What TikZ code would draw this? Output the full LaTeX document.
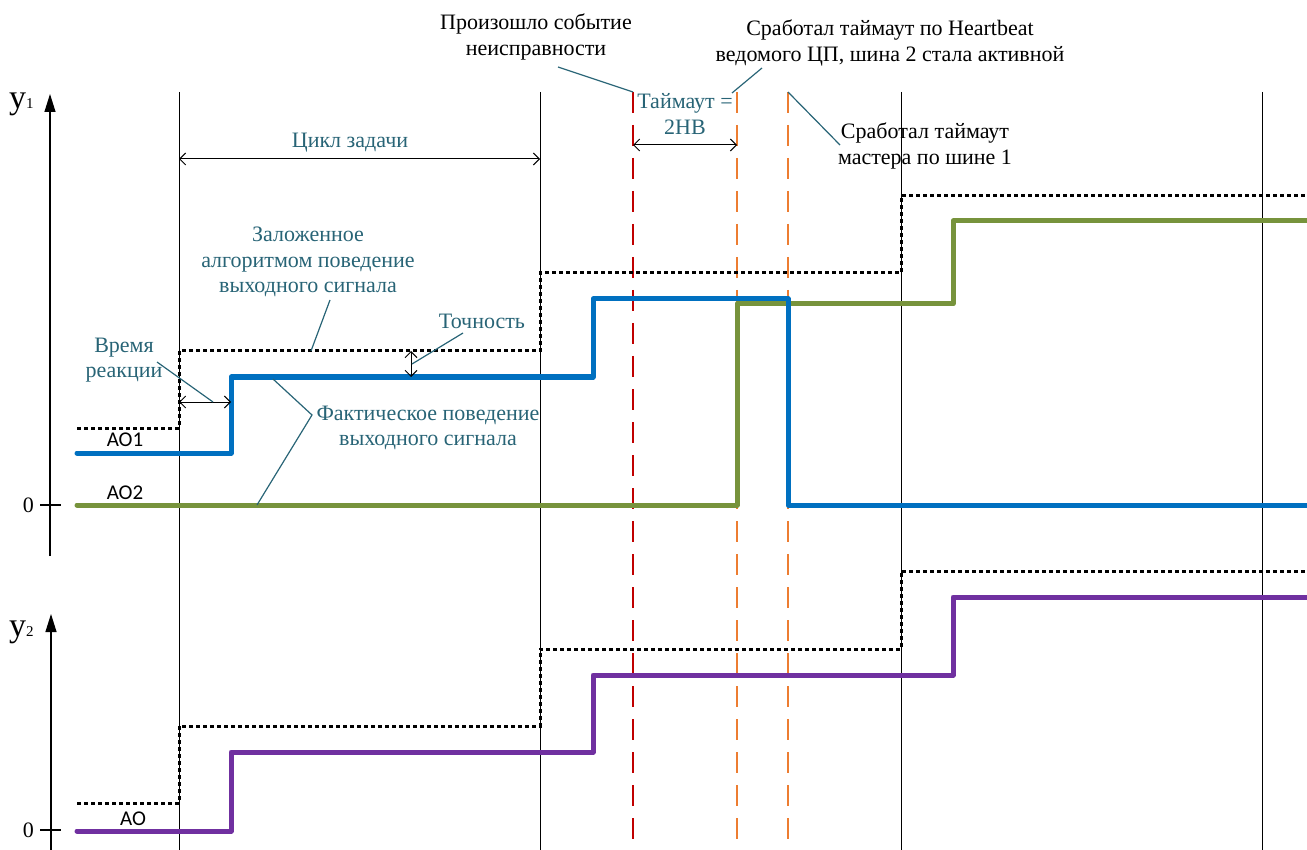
\documentclass[tikz,border=0pt]{standalone}
\usepackage{fontspec}
\setmainfont{Liberation Serif}
\newfontfamily\calfont{Carlito}
\usetikzlibrary{arrows.meta}
\definecolor{tealtxt}{RGB}{40,100,118}
\definecolor{sigblue}{RGB}{0,112,192}
\definecolor{siggreen}{RGB}{119,147,60}
\definecolor{sigpurple}{RGB}{112,48,160}
\definecolor{evred}{RGB}{192,0,0}
\definecolor{evorange}{RGB}{237,125,49}
\tikzset{
  grid line/.style={draw=black, line width=1pt},
  axis line/.style={draw=black, line width=1.2pt, -{Triangle[length=18pt,width=11pt]}},
  tick line/.style={draw=black, line width=1.2pt},
  ev line/.style={line width=2.8pt, dash pattern=on 21pt off 12pt},
  ref line/.style={draw=black, line width=3pt, dash pattern=on 4pt off 3pt},
  sig line/.style={line width=5pt, line join=round, line cap=round},
  dim line/.style={draw=black, line width=1pt, {Straight Barb[length=6pt,width=12pt]}-{Straight Barb[length=6pt,width=12pt]}},
  leader/.style={draw=tealtxt, line width=1.2pt},
  txt/.style={align=center, inner sep=0pt, font=\fontsize{22}{25.5}\selectfont},
  ttxt/.style={txt, text=tealtxt},
  aolbl/.style={inner sep=0pt, font=\calfont\fontsize{21}{21}\selectfont},
}
\begin{document}
\begin{tikzpicture}[x=1pt,y=-1pt]
\useasboundingbox (0,0) rectangle (1307,850);

% coordinates for vertical lines
\foreach \n/\x in {a/179,b/540,c/901,d/1262}{
  \coordinate (v\n t) at (\x,92);
  \coordinate (v\n b) at (\x,850);
}
\foreach \n in {a,b,c,d}{ \draw[grid line] (v\n t) -- (v\n b); }

% event lines
\coordinate (er t) at (633,92); \coordinate (er b) at (633,850);
\coordinate (eo1 t) at (737,92); \coordinate (eo1 b) at (737,850);
\coordinate (eo2 t) at (788,92); \coordinate (eo2 b) at (788,850);
\draw[ev line, draw=evred] (er t) -- (er b);
\draw[ev line, draw=evorange] (eo1 t) -- (eo1 b);
\draw[ev line, draw=evorange] (eo2 t) -- (eo2 b);

% axes
\coordinate (ax1 b) at (50,556); \coordinate (ax1 t) at (50,94);
\coordinate (ax2 b) at (51,850); \coordinate (ax2 t) at (51,614);
\draw[axis line] (ax1 b) -- (ax1 t);
\draw[axis line] (ax2 b) -- (ax2 t);
\coordinate (tk1 l) at (40,505); \coordinate (tk1 r) at (61,505);
\coordinate (tk2 l) at (40,830); \coordinate (tk2 r) at (61,830);
\draw[tick line] (tk1 l) -- (tk1 r);
\draw[tick line] (tk2 l) -- (tk2 r);
\node[txt, anchor=east] (zero1) at (34,505) {0};
\node[txt, anchor=east] (zero2) at (34,830) {0};
\node[inner sep=0pt, anchor=base west] (y1) at (9,109) {\fontsize{34}{34}\selectfont y\fontsize{15}{15}\selectfont 1};
\node[inner sep=0pt, anchor=base west] (y2) at (9,636) {\fontsize{34}{34}\selectfont y\fontsize{15}{15}\selectfont 2};

% reference (dotted) lines
\draw[ref line] (77,428) -- (179,428) -- (179,351) -- (540,351) -- (540,273) -- (901,273) -- (901,196) -- (1307,196);
\draw[ref line] (77,803) -- (179,803) -- (179,726) -- (540,726) -- (540,649) -- (901,649) -- (901,571) -- (1307,571);

% signals
\draw[sig line, draw=siggreen] (77,505) -- (737,505) -- (737,304) -- (953,304) -- (953,221) -- (1310,221);
\draw[sig line, draw=sigblue] (77,453) -- (231,453) -- (231,377) -- (593,377) -- (593,299) -- (788,299) -- (788,505) -- (1310,505);
\draw[sig line, draw=sigpurple] (77,831) -- (231,831) -- (231,752) -- (593,752) -- (593,675) -- (953,675) -- (953,597) -- (1310,597);

\node[aolbl] (ao1) at (125,440) {AO1};
\node[aolbl] (ao2) at (125,493) {AO2};
\node[aolbl] (ao) at (133,819) {AO};

% dimension: task cycle
\coordinate (cyc l) at (179,159); \coordinate (cyc r) at (540,159);
\draw[dim line] (cyc l) -- (cyc r);
\node[ttxt] (cyc) at (350,143) {Цикл задачи};

% dimension: timeout
\coordinate (to l) at (633,145); \coordinate (to r) at (737,145);
\draw[dim line] (to l) -- (to r);
\node[ttxt] (tout) at (685,114) {Таймаут =\\2HB};

% dimension: reaction time
\coordinate (rt l) at (179,402); \coordinate (rt r) at (231,402);
\draw[dim line] (rt l) -- (rt r);
\node[ttxt] (rt) at (124,360) {Время\\реакции};
\coordinate (rt a) at (157,362); \coordinate (rt m) at (213,402);
\draw[leader] (rt a) -- (rt m);

% dimension: accuracy
\coordinate (ac t) at (411,351); \coordinate (ac b) at (411,377);
\draw[dim line] (ac t) -- (ac b);
\node[ttxt] (acc) at (482,321) {Точность};
\coordinate (acc a) at (463,333); \coordinate (acc m) at (412,364);
\draw[leader] (acc a) -- (acc m);

% planned behaviour
\node[ttxt] (plan) at (308,262) {Заложенное\\алгоритмом поведение\\выходного сигнала};
\coordinate (plan a) at (330,300); \coordinate (plan m) at (311,351);
\draw[leader] (plan a) -- (plan m);

% actual behaviour
\node[ttxt] (act) at (428,428) {Фактическое поведение\\выходного сигнала};
\coordinate (act a) at (312,415); \coordinate (act m1) at (273,379); \coordinate (act m2) at (257,505);
\draw[leader] (act m1) -- (act a) -- (act m2);

% event labels
\node[txt] (ev) at (536,37) {Произошло событие\\неисправности};
\coordinate (ev a) at (558,67);
\draw[leader] (ev a) -- (er t);

\node[txt] (hb) at (890,43) {Сработал таймаут по Heartbeat\\ведомого ЦП, шина 2 стала активной};
\coordinate (hb a) at (762,68); \coordinate (hb m) at (732,93);
\draw[leader] (hb a) -- (hb m);

\node[txt] (ms) at (925,146) {Сработал таймаут\\мастера по шине 1};
\coordinate (ms a) at (840,145);
\draw[leader] (eo2 t) -- (ms a);
\end{tikzpicture}
\end{document}
